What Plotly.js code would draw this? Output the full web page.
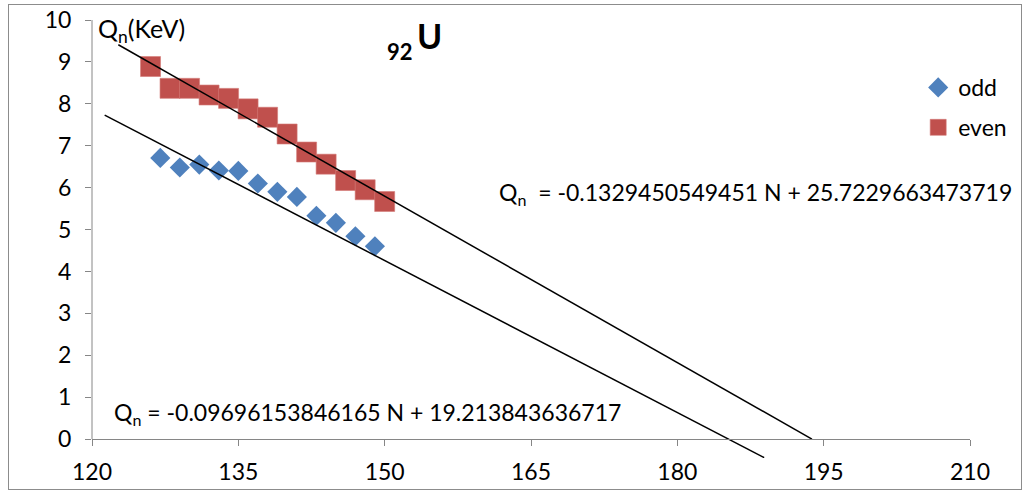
<!DOCTYPE html>
<html>
<head>
<meta charset="utf-8">
<script src="https://cdn.plot.ly/plotly-3.0.1.min.js"></script>
<style>
  html, body { margin: 0; padding: 0; background: #fff; }
  #wrap { position: relative; width: 1024px; height: 491px; }
  #chart { width: 1024px; height: 491px; }
  #frame { position: absolute; left: 8px; top: 4px; width: 1012px; height: 484px;
           border: 1px solid #8c8c8c; pointer-events: none; }
</style>
</head>
<body>
<div id="wrap">
  <div id="chart"></div>
  <div id="frame"></div>
</div>
<script>
// ---- data ----
const oddN  = [127, 129, 131, 133, 135, 137, 139, 141, 143, 145, 147, 149];
const oddQ  = [6.71, 6.48, 6.55, 6.41, 6.40, 6.10, 5.90, 5.78, 5.33, 5.16, 4.84, 4.60];
const evenN = [126, 128, 130, 132, 134, 136, 138, 140, 142, 144, 146, 148, 150];
const evenQ = [8.89, 8.37, 8.37, 8.21, 8.13, 7.88, 7.68, 7.28, 6.85, 6.56, 6.17, 5.95, 5.67];

// straight lines as drawn in the picture (end points, data units)
const evenLineN = [122.7, 193.8];
const evenLineQ = [9.41, 0];
const oddLineN  = [121.3, 188.9];
const oddLineQ  = [7.73, -0.44];

// axis ticks
const xTicks = [120, 135, 150, 165, 180, 195, 210];
const yTicks = [0, 1, 2, 3, 4, 5, 6, 7, 8, 9, 10];

// texts
const seriesNames = ['odd', 'even'];
const yTitle = 'Q<sub>n</sub>(KeV)';
const xTitle = 'N';
const elemZ = '92';
const elemSym = 'U';
const eqEven = 'Q<sub>n</sub>  = -0.1329450549451 N + 25.7229663473719';
const eqOdd  = 'Q<sub>n</sub> = -0.09696153846165 N + 19.213843636717';

// ---- styling ----
const FONT = 'Lato, "Open Sans", sans-serif';
const FS = 23;
const AXC = '#868686';
const yMin = -0.45, yMax = 10;

const traces = [
  { x: oddN, y: oddQ, name: seriesNames[0], type: 'scatter', mode: 'markers',
    legendgroup: 'a',
    marker: { symbol: 'diamond', size: 15.5, color: '#4F81BD', line: { width: 0 } } },
  { x: evenN, y: evenQ, name: seriesNames[1], type: 'scatter', mode: 'markers',
    legendgroup: 'b',
    marker: { symbol: 'square', size: 20, color: '#C0504D', line: { width: 0.6, color: '#d47a77' } } },
  { x: evenLineN, y: evenLineQ, type: 'scatter', mode: 'lines', showlegend: false,
    line: { color: '#000', width: 1.5 }, hoverinfo: 'skip' },
  { x: oddLineN, y: oddLineQ, type: 'scatter', mode: 'lines', showlegend: false,
    line: { color: '#000', width: 1.5 }, hoverinfo: 'skip' }
];

const layout = {
  width: 1024, height: 491,
  margin: { l: 92, r: 49, t: 20, b: 33, pad: 0 },
  paper_bgcolor: '#fff', plot_bgcolor: 'rgba(0,0,0,0)',
  font: { family: FONT, size: FS, color: '#000' },
  showlegend: true,
  legend: { x: 0.941, xanchor: 'left', y: 0.895, yanchor: 'top',
            bgcolor: 'rgba(0,0,0,0)', font: { family: FONT, size: FS, color: '#000' },
            traceorder: 'grouped', tracegroupgap: 7 },
  xaxis: {
    range: [120, 210], tickvals: xTicks, ticktext: xTicks.map(String),
    anchor: 'free', position: (0 - yMin) / (yMax - yMin),
    showline: true, linecolor: AXC, linewidth: 1,
    ticks: 'outside', ticklen: 6, tickcolor: AXC, tickwidth: 1,
    ticklabelstandoff: 6,
    showgrid: false, zeroline: false,
    tickfont: { family: FONT, size: FS, color: '#000' }
  },
  yaxis: {
    range: [yMin, yMax], tickvals: yTicks, ticktext: yTicks.map(String),
    showline: false,
    ticks: 'outside', ticklen: 6, tickcolor: AXC, tickwidth: 1,
    ticklabelstandoff: 9,
    showgrid: false, zeroline: false,
    tickfont: { family: FONT, size: FS, color: '#000' }
  },
  shapes: [
    { type: 'line', xref: 'paper', yref: 'y', x0: 0, x1: 0, y0: 0, y1: yMax,
      line: { color: AXC, width: 1 } }
  ],
  annotations: [
    { text: yTitle, xref: 'x', yref: 'y', x: 120.45, y: 9.76, xanchor: 'left', yanchor: 'middle',
      showarrow: false, font: { family: FONT, size: 25, color: '#000' } },
    { text: xTitle, xref: 'x', yref: 'y', x: 211.8, y: 0.57, xanchor: 'center', yanchor: 'middle',
      showarrow: false, font: { family: FONT, size: FS + 2, color: '#000' } },
    { text: '<b>' + elemZ + '</b>', xref: 'x', yref: 'y', x: 151.6, y: 9.25, xanchor: 'center', yanchor: 'middle',
      showarrow: false, font: { family: FONT, size: 22, color: '#000' } },
    { text: '<b>' + elemSym + '</b>', xref: 'x', yref: 'y', x: 154.6, y: 9.62, xanchor: 'center', yanchor: 'middle',
      showarrow: false, font: { family: FONT, size: 34, color: '#000' } },
    { text: eqEven, xref: 'x', yref: 'y', x: 161.5, y: 5.87, xanchor: 'left', yanchor: 'middle',
      showarrow: false, font: { family: FONT, size: FS, color: '#000' } },
    { text: eqOdd, xref: 'x', yref: 'y', x: 122.1, y: 0.62, xanchor: 'left', yanchor: 'middle',
      showarrow: false, font: { family: FONT, size: FS, color: '#000' } }
  ]
};

Plotly.newPlot('chart', traces, layout, { staticPlot: true, displayModeBar: false });
</script>
</body>
</html>
